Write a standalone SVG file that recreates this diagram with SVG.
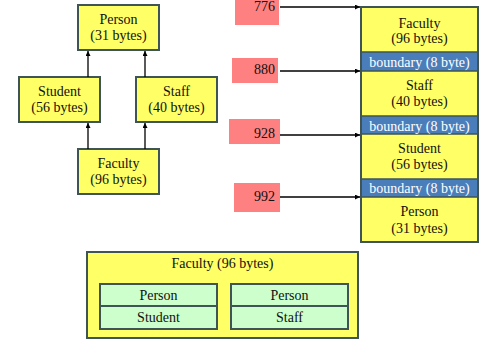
<svg xmlns="http://www.w3.org/2000/svg" width="483" height="340" viewBox="0 0 483 340">
<defs>
<marker id="ah" viewBox="0 0 6 6" refX="6" refY="3" markerWidth="5" markerHeight="5" orient="auto" markerUnits="userSpaceOnUse">
<path d="M0,0 L6,3 L0,6 Z" fill="#000"/>
</marker>
<style>
.box{fill:#ffff66;stroke:#3f5454;stroke-width:2}
.bnd{fill:#4a7ebb;stroke:#3f5454;stroke-width:1.5}
.grn{fill:#ccffcc;stroke:#3f5454;stroke-width:2}
.red{fill:#ff8080}
text{font-family:'Liberation Serif','Times New Roman',Tinos,'DejaVu Serif',serif;font-size:14px;fill:#111;text-anchor:middle}
.w{fill:#fff}
.n{text-anchor:end}
.c{stroke:#000;stroke-width:1.3;fill:none;marker-end:url(#ah)}
</style>
</defs>
<rect width="483" height="340" fill="#fff"/>
<g id="tree-person"><rect class="box" x="78" y="5" width="81" height="45"/><text x="118.5" y="24">Person</text><text x="118.5" y="40">(31 bytes)</text></g>
<g id="tree-student"><rect class="box" x="19" y="77" width="81" height="45"/><text x="59.5" y="96">Student</text><text x="59.5" y="112">(56 bytes)</text></g>
<g id="tree-staff"><rect class="box" x="136" y="77" width="81" height="45"/><text x="176.5" y="96">Staff</text><text x="176.5" y="112">(40 bytes)</text></g>
<g id="tree-faculty"><rect class="box" x="78" y="149" width="81" height="45"/><text x="118.5" y="168">Faculty</text><text x="118.5" y="184">(96 bytes)</text></g>
<g id="addr-776"><rect class="red" x="235" y="0" width="44" height="25"/><text class="n" x="275" y="11">776</text></g>
<g id="addr-880"><rect class="red" x="232" y="58" width="46" height="25"/><text class="n" x="275" y="74">880</text></g>
<g id="addr-928"><rect class="red" x="229" y="119" width="51" height="25"/><text class="n" x="275" y="138">928</text></g>
<g id="addr-992"><rect class="red" x="234" y="183" width="46" height="29"/><text class="n" x="275" y="201">992</text></g>
<g id="memory">
<rect class="box" x="361" y="7" width="117" height="235"/>
<rect class="bnd" x="361" y="52" width="117" height="19"/>
<rect class="bnd" x="361" y="116" width="117" height="18"/>
<rect class="bnd" x="361" y="179" width="117" height="18"/>
<rect x="361" y="7" width="117" height="235" fill="none" stroke="#3f5454" stroke-width="2"/>
<text x="419.5" y="28">Faculty</text><text x="419.5" y="43">(96 bytes)</text>
<text class="w" x="419.5" y="67">boundary (8 byte)</text>
<text x="419.5" y="90">Staff</text><text x="419.5" y="106">(40 bytes)</text>
<text class="w" x="419.5" y="131">boundary (8 byte)</text>
<text x="419.5" y="153">Student</text><text x="419.5" y="169">(56 bytes)</text>
<text class="w" x="419.5" y="193">boundary (8 byte)</text>
<text x="419.5" y="216">Person</text><text x="419.5" y="233">(31 bytes)</text>
</g>
<g id="layout">
<rect class="box" x="87" y="252" width="271" height="86"/>
<text x="222.5" y="268">Faculty (96 bytes)</text>
<rect class="grn" x="100" y="284" width="117" height="22"/><rect class="grn" x="100" y="306" width="117" height="23"/>
<text x="158.5" y="300">Person</text><text x="158.5" y="322">Student</text>
<rect class="grn" x="231" y="284" width="117" height="22"/><rect class="grn" x="231" y="306" width="117" height="23"/>
<text x="289.5" y="300">Person</text><text x="289.5" y="322">Staff</text>
</g>
<g id="connectors">
<line class="c" x1="88" y1="77" x2="88" y2="51"/>
<line class="c" x1="145" y1="77" x2="145" y2="51"/>
<line class="c" x1="88" y1="149" x2="88" y2="123"/>
<line class="c" x1="145" y1="149" x2="145" y2="123"/>
<line class="c" x1="280" y1="7" x2="360" y2="7"/>
<line class="c" x1="280" y1="71" x2="360" y2="71"/>
<line class="c" x1="280" y1="135" x2="360" y2="135"/>
<line class="c" x1="280" y1="197" x2="360" y2="197"/>
</g>
</svg>
